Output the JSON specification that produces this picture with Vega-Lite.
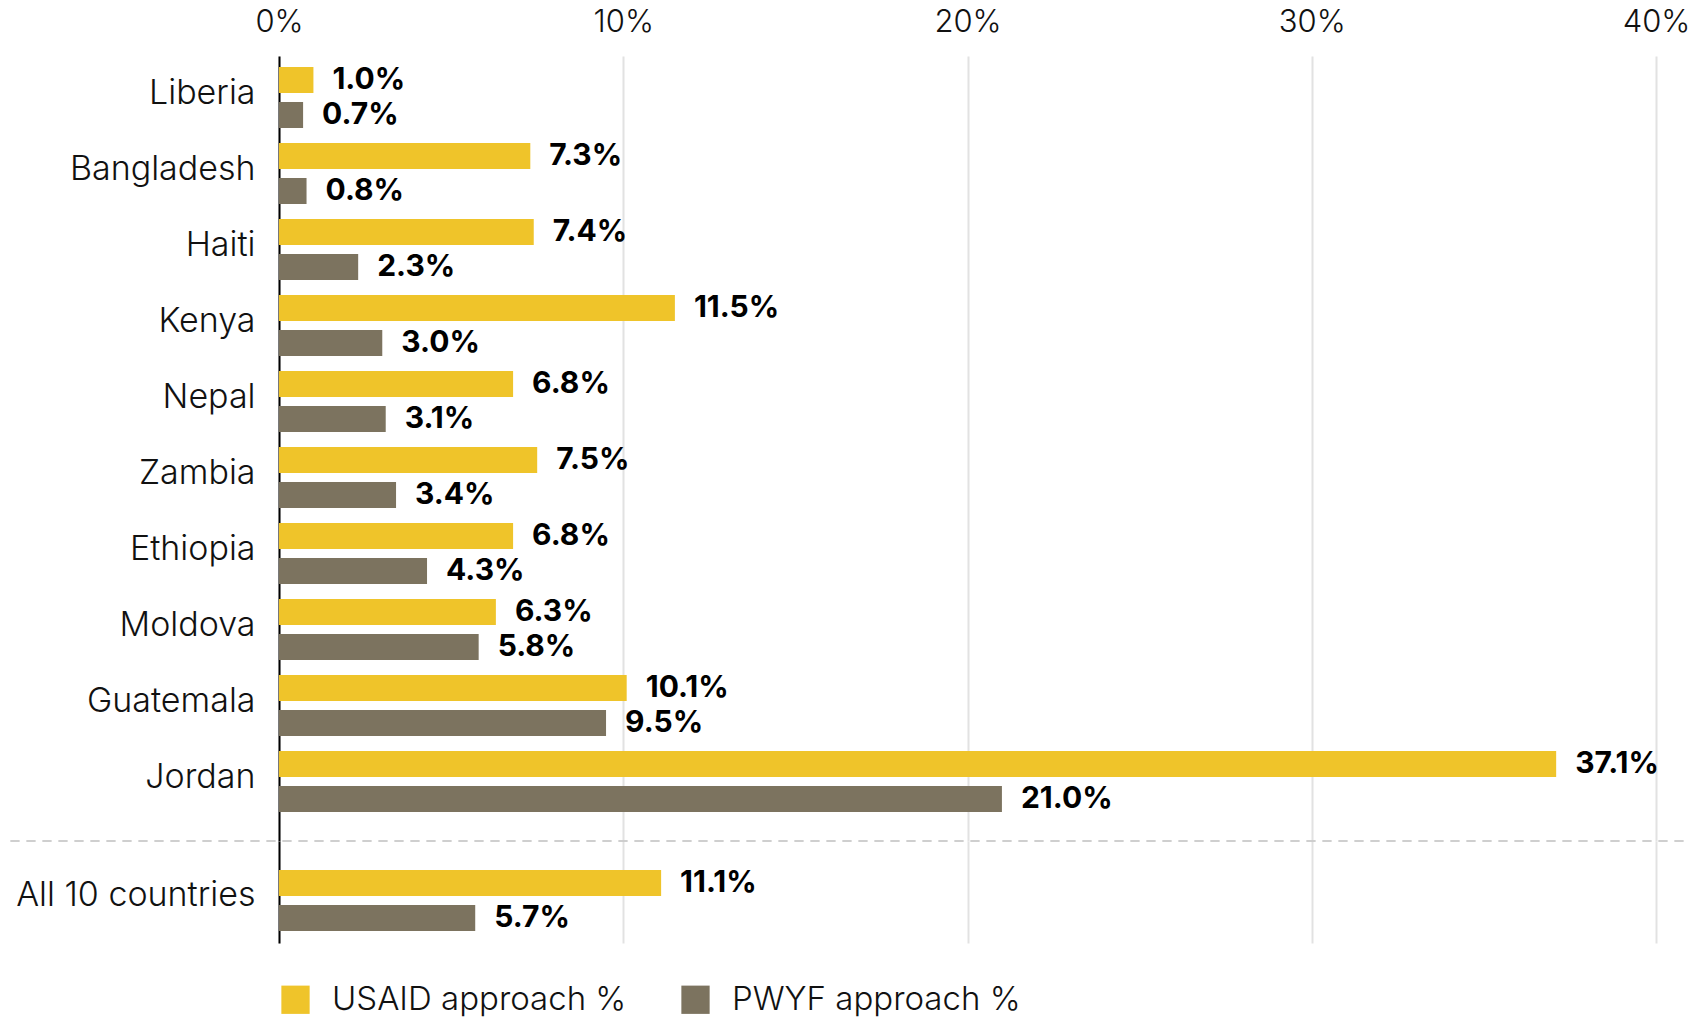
{
  "$schema": "https://vega.github.io/schema/vega-lite/v6.json",
  "padding": 0,
  "background": "white",
  "datasets": {
    "rows": [
      {"country": "Liberia", "group": "c", "approach": "USAID approach %", "value": 0.010},
      {"country": "Liberia", "group": "c", "approach": "PWYF approach %", "value": 0.007},
      {"country": "Bangladesh", "group": "c", "approach": "USAID approach %", "value": 0.073},
      {"country": "Bangladesh", "group": "c", "approach": "PWYF approach %", "value": 0.008},
      {"country": "Haiti", "group": "c", "approach": "USAID approach %", "value": 0.074},
      {"country": "Haiti", "group": "c", "approach": "PWYF approach %", "value": 0.023},
      {"country": "Kenya", "group": "c", "approach": "USAID approach %", "value": 0.115},
      {"country": "Kenya", "group": "c", "approach": "PWYF approach %", "value": 0.030},
      {"country": "Nepal", "group": "c", "approach": "USAID approach %", "value": 0.068},
      {"country": "Nepal", "group": "c", "approach": "PWYF approach %", "value": 0.031},
      {"country": "Zambia", "group": "c", "approach": "USAID approach %", "value": 0.075},
      {"country": "Zambia", "group": "c", "approach": "PWYF approach %", "value": 0.034},
      {"country": "Ethiopia", "group": "c", "approach": "USAID approach %", "value": 0.068},
      {"country": "Ethiopia", "group": "c", "approach": "PWYF approach %", "value": 0.043},
      {"country": "Moldova", "group": "c", "approach": "USAID approach %", "value": 0.063},
      {"country": "Moldova", "group": "c", "approach": "PWYF approach %", "value": 0.058},
      {"country": "Guatemala", "group": "c", "approach": "USAID approach %", "value": 0.101},
      {"country": "Guatemala", "group": "c", "approach": "PWYF approach %", "value": 0.095},
      {"country": "Jordan", "group": "c", "approach": "USAID approach %", "value": 0.371},
      {"country": "Jordan", "group": "c", "approach": "PWYF approach %", "value": 0.210},
      {"country": "All 10 countries", "group": "all", "approach": "USAID approach %", "value": 0.111},
      {"country": "All 10 countries", "group": "all", "approach": "PWYF approach %", "value": 0.057}
    ]
  },
  "spacing": 0,
  "bounds": "flush",
  "resolve": {"scale": {"x": "shared", "color": "shared"}},
  "vconcat": [
    {
      "width": 1377,
      "height": 785,
      "data": {"name": "rows"},
      "transform": [{"filter": "datum.group == 'c'"}],
      "encoding": {
        "y": {
          "field": "country", "type": "nominal", "sort": null,
          "scale": {"paddingInner": 0.197, "paddingOuter": 0.263, "align": 0.275},
          "axis": {"title": null, "ticks": false, "domain": true, "domainColor": "#000000", "domainWidth": 2, "labelPadding": 24, "labelOffset": -4, "labelFontSize": 34, "labelFontWeight": 300, "labelLimit": 0, "labelColor": "#111111", "minExtent": 279, "maxExtent": 279}
        },
        "x": {
          "field": "value", "type": "quantitative",
          "scale": {"domain": [0, 0.4], "nice": false},
          "axis": {"orient": "top", "title": null, "values": [0, 0.1, 0.2, 0.3, 0.4], "format": ".0%", "ticks": false, "domain": false, "grid": true, "gridColor": "#e2e2e2", "gridWidth": 2, "labelFlush": false, "labelPadding": 18, "labelFontSize": 31, "labelFontWeight": 300, "labelColor": "#111111", "minExtent": 56, "maxExtent": 56}
        },
        "yOffset": {"field": "approach", "sort": ["USAID approach %", "PWYF approach %"], "scale": {"paddingInner": 0.257}}
      },
      "layer": [
        {
          "mark": {"type": "bar"},
          "encoding": {
            "color": {
              "field": "approach", "type": "nominal",
              "scale": {"domain": ["USAID approach %", "PWYF approach %"], "range": ["#EFC42A", "#7C735F"]},
              "legend": {"orient": "bottom", "direction": "horizontal", "title": null, "symbolType": "square", "symbolSize": 800, "symbolStrokeWidth": 0, "symbolOpacity": 1, "labelFontSize": 33, "labelFontWeight": 300, "labelLimit": 500, "labelColor": "#111111", "labelOffset": 20, "columnPadding": 52, "offset": 40}
            }
          }
        },
        {
          "mark": {"type": "text", "align": "left", "baseline": "middle", "dx": 19, "fontWeight": "bold", "fontSize": 30, "color": "#000000"},
          "encoding": {"text": {"field": "value", "type": "quantitative", "format": ".1%"}}
        }
      ]
    },
    {
      "width": 1377,
      "height": 102,
      "data": {"name": "rows"},
      "transform": [{"filter": "datum.group == 'all'"}],
      "encoding": {
        "y": {
          "field": "country", "type": "nominal", "sort": null,
          "scale": {"paddingInner": 0, "paddingOuter": 0.336, "align": 0.707},
          "axis": {"title": null, "ticks": false, "domain": true, "domainColor": "#000000", "domainWidth": 2, "labelPadding": 24, "labelOffset": -4, "labelFontSize": 34, "labelFontWeight": 300, "labelLimit": 0, "labelColor": "#111111", "minExtent": 279, "maxExtent": 279}
        },
        "x": {
          "field": "value", "type": "quantitative",
          "scale": {"domain": [0, 0.4], "nice": false},
          "axis": {"orient": "top", "title": null, "values": [0, 0.1, 0.2, 0.3, 0.4], "labels": false, "ticks": false, "domain": false, "grid": true, "gridColor": "#e2e2e2", "gridWidth": 2, "minExtent": 0, "maxExtent": 0}
        },
        "yOffset": {"field": "approach", "sort": ["USAID approach %", "PWYF approach %"], "scale": {"paddingInner": 0.257}}
      },
      "layer": [
        {
          "mark": {"type": "bar"},
          "encoding": {
            "color": {"field": "approach", "type": "nominal"}
          }
        },
        {
          "mark": {"type": "text", "align": "left", "baseline": "middle", "dx": 19, "fontWeight": "bold", "fontSize": 30, "color": "#000000"},
          "encoding": {"text": {"field": "value", "type": "quantitative", "format": ".1%"}}
        },
        {
          "mark": {"type": "rule", "strokeDash": [9, 7], "color": "#cccccc", "strokeWidth": 1.5},
          "encoding": {
            "y": {"datum": "All 10 countries", "type": "nominal", "bandPosition": -0.475},
            "yOffset": null,
            "x": {"datum": -0.078, "type": "quantitative"},
            "x2": {"datum": 0.41}
          }
        }
      ]
    }
  ],
  "config": {
    "font": "Inter",
    "view": {"stroke": null},
    "axis": {"labelFont": "Inter"},
    "legend": {"labelFont": "Inter"},
    "text": {"font": "Inter"}
  }
}
